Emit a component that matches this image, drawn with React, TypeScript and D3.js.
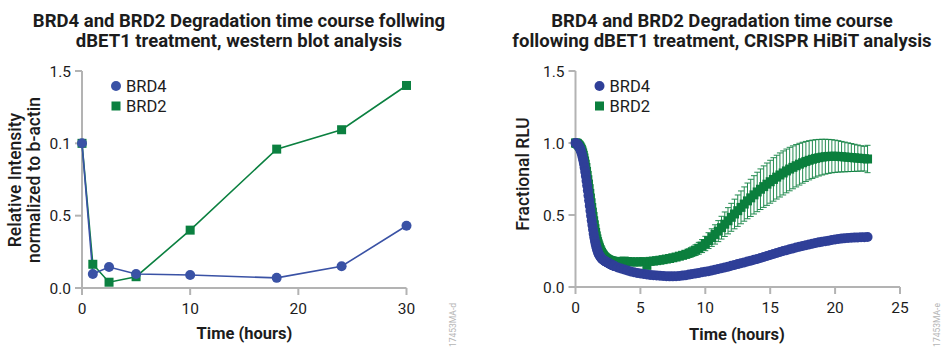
import React from "react";
import * as d3 from "d3";

// ---------- Left chart: western blot ----------
const wbTime = [0, 1, 2.5, 5, 10, 18, 24, 30];
const wbBRD4 = [1.0, 0.097, 0.145, 0.097, 0.09, 0.07, 0.15, 0.43];
const wbBRD2 = [1.0, 0.164, 0.04, 0.078, 0.4, 0.96, 1.094, 1.4];
const wbXTicks = [0, 10, 20, 30];
const wbYTicks = [0, 0.5, 1.0, 1.5];
const wbYTickLabels = ["0.0", "0.5", "0.1", "1.5"];

// ---------- Right chart: HiBiT kinetic ----------
const hibitTime = [
  0, 0.05, 0.1, 0.15, 0.2, 0.25, 0.3, 0.35, 0.4, 0.45, 0.5, 0.55, 0.6, 0.65, 0.7, 0.75, 0.8, 0.85, 0.9, 0.95,
  1.0, 1.05, 1.1, 1.15, 1.2, 1.25, 1.3, 1.35, 1.4, 1.45, 1.5, 1.55, 1.6, 1.65, 1.7, 1.75, 1.8, 1.85, 1.9, 1.95,
  2.0, 2.05, 2.1, 2.15, 2.2, 2.25, 2.3, 2.35, 2.4, 2.45, 2.5, 2.55, 2.6, 2.65, 2.7, 2.75, 2.8, 2.85, 2.9, 2.95, 3.0,
  3.25, 3.5, 3.75, 4.0, 4.25, 4.5, 4.75, 5.0, 5.25, 5.5, 5.75, 6.0, 6.25, 6.5, 6.75, 7.0, 7.25, 7.5, 7.75, 8.0,
  8.25, 8.5, 8.75, 9.0, 9.25, 9.5, 9.75, 10.0, 10.25, 10.5, 10.75, 11.0, 11.25, 11.5, 11.75, 12.0,
  12.25, 12.5, 12.75, 13.0, 13.25, 13.5, 13.75, 14.0, 14.25, 14.5, 14.75, 15.0, 15.25, 15.5, 15.75, 16.0,
  16.25, 16.5, 16.75, 17.0, 17.25, 17.5, 17.75, 18.0, 18.25, 18.5, 18.75, 19.0, 19.25, 19.5, 19.75, 20.0,
  20.25, 20.5, 20.75, 21.0, 21.25, 21.5, 21.75, 22.0, 22.25, 22.5,
];
const hibitBRD4 = [
  1.0, 0.999, 0.995, 0.99, 0.985, 0.978, 0.97, 0.961, 0.95, 0.936, 0.92, 0.901, 0.88, 0.856, 0.83, 0.801, 0.77, 0.738, 0.705, 0.67,
  0.635, 0.6, 0.565, 0.53, 0.495, 0.462, 0.43, 0.399, 0.37, 0.344, 0.32, 0.299, 0.28, 0.264, 0.25, 0.238, 0.228, 0.22, 0.212, 0.206,
  0.2, 0.195, 0.191, 0.187, 0.184, 0.181, 0.178, 0.175, 0.173, 0.17, 0.168, 0.165, 0.163, 0.16, 0.158, 0.155, 0.153, 0.151, 0.149, 0.147, 0.145,
  0.136, 0.128, 0.121, 0.114, 0.108, 0.103, 0.098, 0.094, 0.09, 0.087, 0.084, 0.082, 0.08, 0.078, 0.076, 0.075, 0.074, 0.074, 0.075, 0.077,
  0.079, 0.082, 0.086, 0.09, 0.094, 0.098, 0.102, 0.106, 0.11, 0.115, 0.12, 0.125, 0.13, 0.135, 0.141, 0.147,
  0.153, 0.159, 0.165, 0.171, 0.177, 0.183, 0.189, 0.195, 0.201, 0.208, 0.215, 0.222, 0.229, 0.236, 0.243, 0.25,
  0.256, 0.262, 0.268, 0.274, 0.28, 0.285, 0.29, 0.295, 0.3, 0.305, 0.31, 0.314, 0.318, 0.322, 0.326, 0.33,
  0.333, 0.336, 0.338, 0.34, 0.342, 0.343, 0.344, 0.345, 0.346, 0.347,
];
const hibitBRD2 = [
  1.0, 0.999, 0.998, 0.995, 0.99, 0.985, 0.98, 0.973, 0.965, 0.956, 0.945, 0.931, 0.915, 0.896, 0.875, 0.853, 0.83, 0.803, 0.775, 0.745,
  0.715, 0.683, 0.65, 0.618, 0.585, 0.552, 0.52, 0.49, 0.46, 0.432, 0.405, 0.379, 0.355, 0.334, 0.315, 0.299, 0.285, 0.272, 0.26, 0.25,
  0.24, 0.232, 0.225, 0.218, 0.212, 0.207, 0.203, 0.199, 0.196, 0.193, 0.19, 0.188, 0.186, 0.184, 0.182, 0.181, 0.18, 0.179, 0.178, 0.177, 0.176,
  0.174, 0.178, 0.18, 0.177, 0.175, 0.174, 0.174, 0.175, 0.176, 0.15, 0.178, 0.18, 0.183, 0.186, 0.19, 0.194, 0.198, 0.203, 0.208, 0.214,
  0.22, 0.227, 0.235, 0.245, 0.256, 0.269, 0.284, 0.302, 0.322, 0.343, 0.365, 0.388, 0.412, 0.436, 0.46, 0.484,
  0.507, 0.53, 0.553, 0.576, 0.598, 0.619, 0.64, 0.66, 0.679, 0.697, 0.714, 0.731, 0.747, 0.763, 0.778, 0.792,
  0.806, 0.819, 0.831, 0.842, 0.853, 0.863, 0.872, 0.88, 0.887, 0.893, 0.898, 0.902, 0.905, 0.907, 0.908, 0.908,
  0.907, 0.905, 0.903, 0.901, 0.899, 0.897, 0.895, 0.893, 0.891, 0.889,
];
const hibitBRD2Err = [
  0, 0.01, 0.01, 0.01, 0.01, 0.01, 0.01, 0.01, 0.01, 0.01, 0.01, 0.01, 0.01, 0.01, 0.01, 0.01, 0.01, 0.01, 0.01, 0.01,
  0.01, 0.01, 0.01, 0.01, 0.01, 0.01, 0.01, 0.01, 0.01, 0.01, 0.01, 0.01, 0.01, 0.01, 0.01, 0.01, 0.01, 0.01, 0.01, 0.01,
  0.01, 0.01, 0.01, 0.01, 0.01, 0.01, 0.01, 0.01, 0.01, 0.01, 0.01, 0.01, 0.01, 0.01, 0.01, 0.01, 0.01, 0.01, 0.01, 0.01, 0.01,
  0.012, 0.012, 0.013, 0.013, 0.013, 0.014, 0.014, 0.015, 0.015, 0.015, 0.016, 0.016, 0.017, 0.017, 0.018, 0.018, 0.019, 0.02, 0.021, 0.022,
  0.024, 0.027, 0.03, 0.033, 0.037, 0.041, 0.045, 0.05, 0.055, 0.061, 0.067, 0.073, 0.079, 0.085, 0.091, 0.097,
  0.103, 0.109, 0.114, 0.119, 0.124, 0.129, 0.133, 0.137, 0.141, 0.144, 0.147, 0.149, 0.151, 0.152, 0.153, 0.153,
  0.152, 0.151, 0.149, 0.147, 0.145, 0.142, 0.139, 0.136, 0.133, 0.13, 0.127, 0.124, 0.121, 0.118, 0.115, 0.112,
  0.109, 0.106, 0.103, 0.1, 0.097, 0.094, 0.091, 0.088, 0.086, 0.095,
];
const hibitXTicks = [0, 5, 10, 15, 20, 25];
const hibitYTicks = [0, 0.5, 1.0, 1.5];
const hibitYTickLabels = ["0.0", "0.5", "1.0", "1.5"];

const seriesNames = ["BRD4", "BRD2"];
const leftTitle = ["BRD4 and BRD2 Degradation time course follwing", "dBET1 treatment, western blot analysis"];
const rightTitle = ["BRD4 and BRD2 Degradation time course", "following dBET1 treatment, CRISPR HiBiT analysis"];

const FONT = "Roboto, 'Noto Sans', sans-serif";
const BLUE_L = "#3a52a5";
const GREEN_L = "#0b8040";
const BLUE_R = "#2f3f98";
const GREEN_R = "#0b7f3d";
const AXIS = "#b3b3b3";
const TEXT = "#1c1c1c";

function Axes({ x, y, xTicks, yTicks, yLabels }: any) {
  const [x0, x1] = x.range();
  const [y0, y1] = y.range();
  return (
    <g>
      <line x1={x0} x2={x0} y1={y0} y2={y1} stroke={AXIS} strokeWidth={2} />
      <line x1={x0} x2={x1} y1={y0} y2={y0} stroke={AXIS} strokeWidth={2} />
      {yTicks.map((t: number, i: number) => (
        <g key={"y" + i}>
          <line x1={x0 - 7} x2={x0} y1={y(t)} y2={y(t)} stroke={AXIS} strokeWidth={2} />
          <text x={x0 - 11} y={y(t)} dy="0.36em" textAnchor="end" fontSize={15.5} fill={TEXT} fontFamily={FONT}>
            {yLabels[i]}
          </text>
        </g>
      ))}
      {xTicks.map((t: number, i: number) => (
        <g key={"x" + i}>
          <line x1={x(t)} x2={x(t)} y1={y0} y2={y0 + 7} stroke={AXIS} strokeWidth={2} />
          <text x={x(t)} y={y0 + 26} textAnchor="middle" fontSize={15.5} fill={TEXT} fontFamily={FONT}>
            {t}
          </text>
        </g>
      ))}
    </g>
  );
}

function Legend({ x, y, blue, green }: any) {
  return (
    <g fontFamily={FONT} fontSize={16.5} fill={TEXT}>
      <circle cx={x} cy={y} r={5} fill={blue} />
      <text x={x + 10} y={y + 5.5}>{seriesNames[0]}</text>
      <rect x={x - 4.5} y={y + 15.5} width={9} height={9} fill={green} />
      <text x={x + 10} y={y + 25.5}>{seriesNames[1]}</text>
    </g>
  );
}

function Title({ cx, lines }: any) {
  return (
    <text textAnchor="middle" fontFamily={FONT} fontWeight={700} fontSize={18.5} fill={TEXT}>
      <tspan x={cx} y={27}>{lines[0]}</tspan>
      <tspan x={cx} y={47}>{lines[1]}</tspan>
    </text>
  );
}

export default function App() {
  const xL = d3.scaleLinear().domain([0, 30]).range([82, 406.5]);
  const yL = d3.scaleLinear().domain([0, 1.5]).range([288, 71]);
  const xR = d3.scaleLinear().domain([0, 25]).range([575.5, 900]);
  const yR = d3.scaleLinear().domain([0, 1.5]).range([287, 71]);

  const wbLine = (vals: number[]) =>
    d3.line<number>().x((_, i) => xL(wbTime[i])).y((d) => yL(d))(vals) || "";

  return (
    <svg width={948} height={355} style={{ position: "absolute", left: 0, top: 0, background: "#fff" }}>
      <rect width={948} height={355} fill="#fff" />

      {/* Left chart */}
      <Title cx={239} lines={leftTitle} />
      <Axes x={xL} y={yL} xTicks={wbXTicks} yTicks={wbYTicks} yLabels={wbYTickLabels} />
      <path d={wbLine(wbBRD2)} fill="none" stroke={GREEN_L} strokeWidth={1.6} />
      <path d={wbLine(wbBRD4)} fill="none" stroke={BLUE_L} strokeWidth={1.6} />
      {wbBRD2.map((v, i) => (
        <rect key={"g" + i} x={xL(wbTime[i]) - 4.5} y={yL(v) - 4.5} width={9} height={9} fill={GREEN_L} />
      ))}
      {wbBRD4.map((v, i) => (
        <circle key={"b" + i} cx={xL(wbTime[i])} cy={yL(v)} r={5} fill={BLUE_L} />
      ))}
      <Legend x={116} y={86} blue={BLUE_L} green={GREEN_L} />
      <text
        transform="translate(21,180) rotate(-90)"
        textAnchor="middle"
        fontFamily={FONT}
        fontWeight={500}
        fontSize={17.5}
        fill={TEXT}
      >
        Relative Intensity
      </text>
      <text
        transform="translate(40,180) rotate(-90)"
        textAnchor="middle"
        fontFamily={FONT}
        fontWeight={500}
        fontSize={17.5}
        fill={TEXT}
      >
        normalized to b-actin
      </text>
      <text x={244.5} y={339} textAnchor="middle" fontFamily={FONT} fontWeight={700} fontSize={16.5} fill={TEXT}>
        Time (hours)
      </text>
      <text transform="translate(456,325) rotate(-90)" textAnchor="middle" fontFamily={FONT} fontSize={8.5} fill="#b5b5b5">
        17453MA-d
      </text>

      {/* Right chart */}
      <Title cx={722} lines={rightTitle} />
      <Axes x={xR} y={yR} xTicks={hibitXTicks} yTicks={hibitYTicks} yLabels={hibitYTickLabels} />
      {hibitBRD2.map((v, i) => {
        const e = hibitBRD2Err[i];
        if (e <= 0) return null;
        const cx = xR(hibitTime[i]);
        return (
          <g key={"e" + i} stroke={GREEN_R} strokeWidth={1} opacity={0.9}>
            <line x1={cx} x2={cx} y1={yR(v + e)} y2={yR(v - e)} />
            <line x1={cx - 3} x2={cx + 3} y1={yR(v + e)} y2={yR(v + e)} />
            <line x1={cx - 3} x2={cx + 3} y1={yR(v - e)} y2={yR(v - e)} />
          </g>
        );
      })}
      {hibitBRD2.map((v, i) => (
        <rect key={"gs" + i} x={xR(hibitTime[i]) - 4.5} y={yR(v) - 4.5} width={9} height={9} fill={GREEN_R} />
      ))}
      {hibitBRD4.map((v, i) => (
        <circle key={"bc" + i} cx={xR(hibitTime[i])} cy={yR(v)} r={5} fill={BLUE_R} />
      ))}
      <Legend x={599.5} y={86} blue={BLUE_R} green={GREEN_R} />
      <text
        transform="translate(529,174) rotate(-90)"
        textAnchor="middle"
        fontFamily={FONT}
        fontWeight={500}
        fontSize={17.5}
        fill={TEXT}
      >
        Fractional RLU
      </text>
      <text x={737} y={340} textAnchor="middle" fontFamily={FONT} fontWeight={700} fontSize={16.5} fill={TEXT}>
        Time (hours)
      </text>
      <text transform="translate(940,325) rotate(-90)" textAnchor="middle" fontFamily={FONT} fontSize={8.5} fill="#b5b5b5">
        17453MA-e
      </text>
    </svg>
  );
}
